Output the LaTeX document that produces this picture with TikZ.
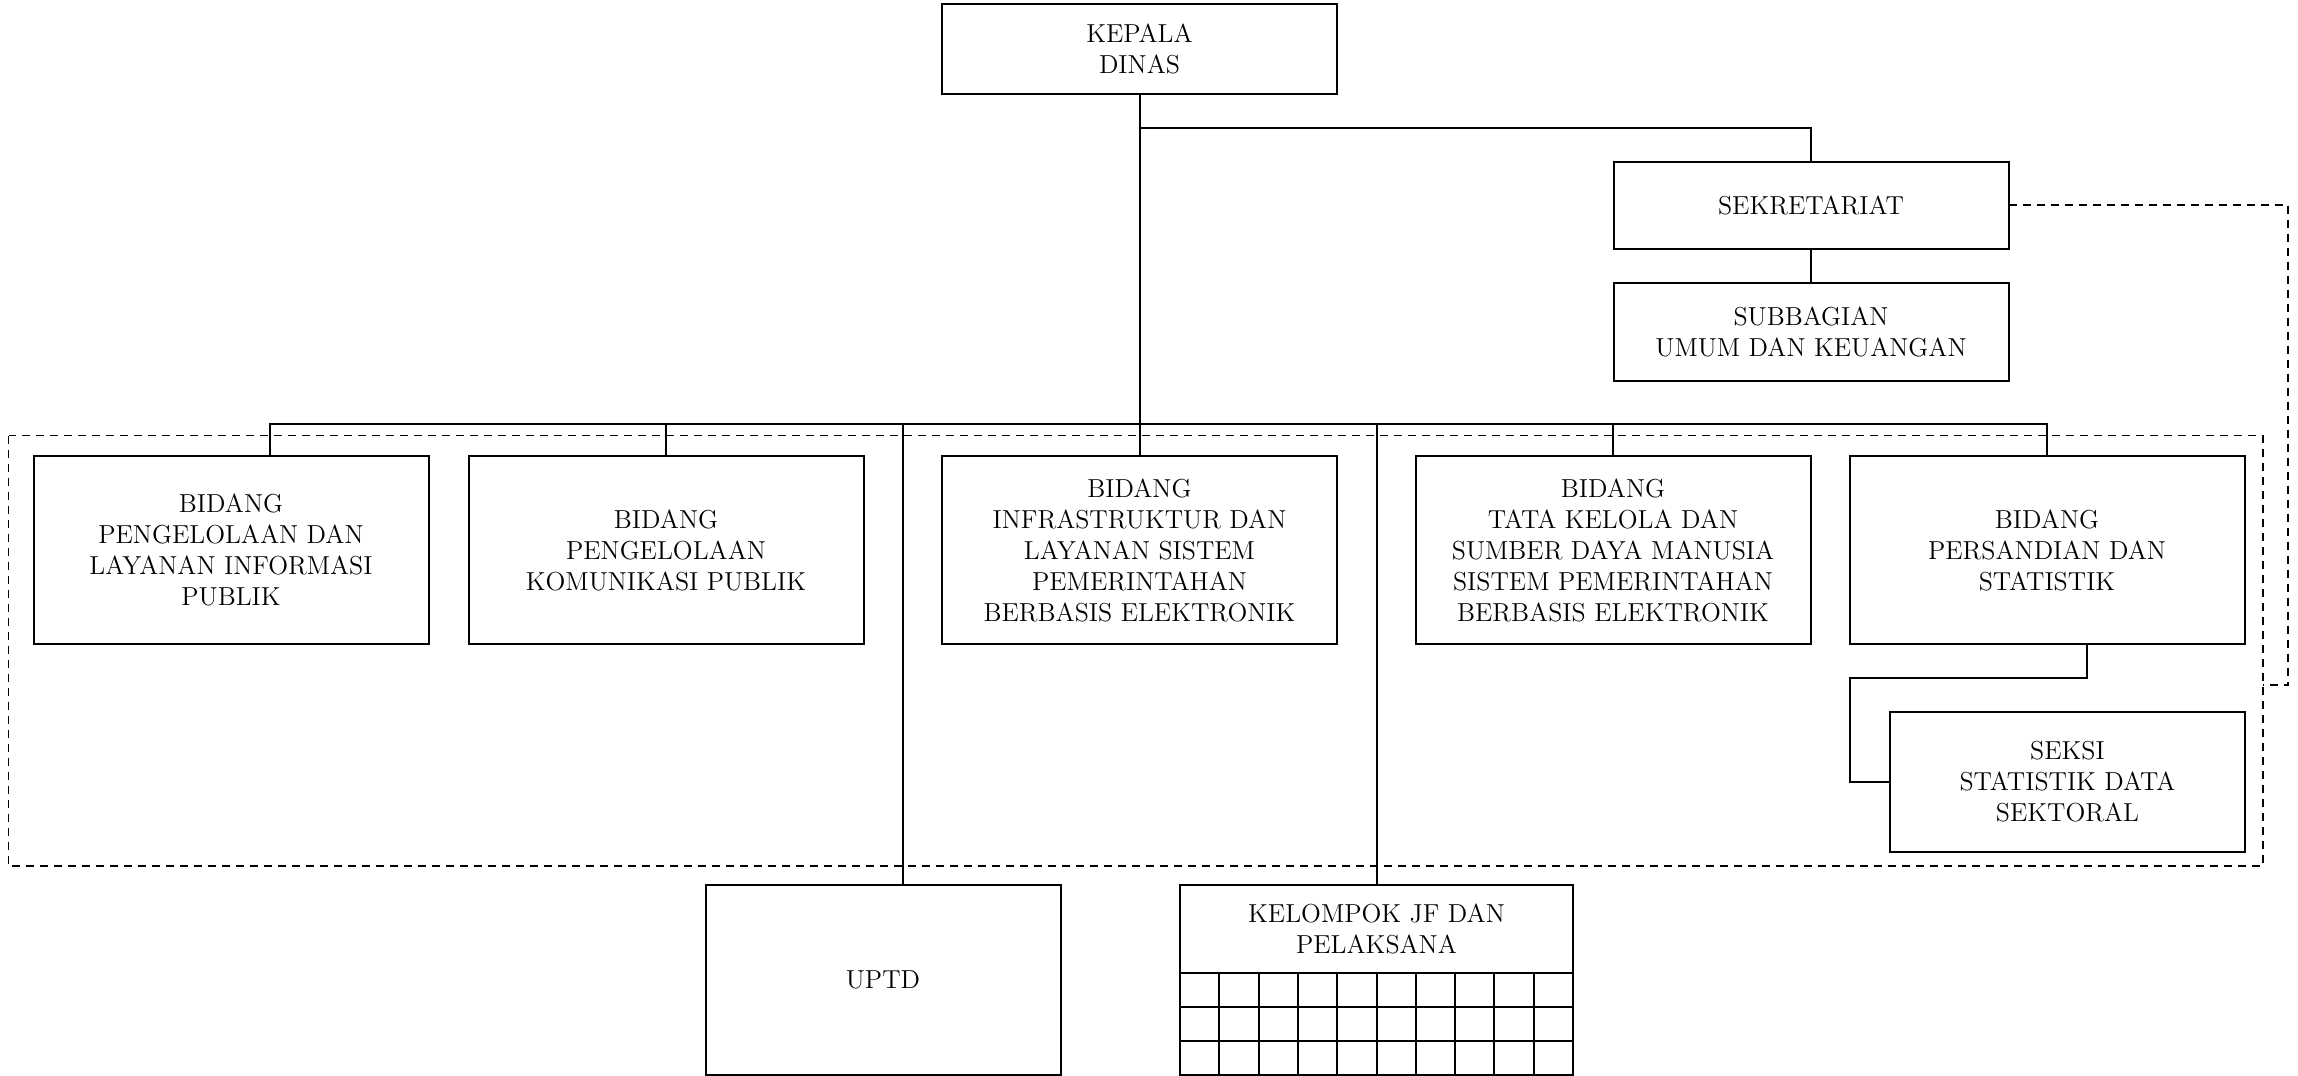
\documentclass[tikz,border=0pt]{standalone}
\usetikzlibrary{calc}

\begin{document}
\begin{tikzpicture}[x=0.5pt,y=-0.5pt,line width=1pt,
		unit/.style={draw, inner sep=0pt, outer sep=0pt, align=center,
			font=\fontsize{13}{15.5}\selectfont},
		widebox/.style={unit, minimum width=197.5pt},
		narrowbox/.style={unit, minimum width=177.5pt},
		dashline/.style={line width=0.85pt, dash pattern=on 4pt off 3pt}]
	\useasboundingbox (0,0) rectangle (2298,1076);

	%Kepala dan sekretariat
	\node[widebox, minimum height=45pt] (kepala) at (1139.5,49) {KEPALA\\DINAS};
	\node[widebox, minimum height=43.5pt] (sekretariat) at (1811,205) {SEKRETARIAT};
	\node[widebox, minimum height=49pt] (subbagian) at (1811,332) {SUBBAGIAN\\UMUM DAN KEUANGAN};

	%Bidang
	\node[widebox, minimum height=94pt] (bidang1) at (231,550) {BIDANG\\PENGELOLAAN DAN\\LAYANAN INFORMASI\\PUBLIK};
	\node[widebox, minimum height=94pt] (bidang2) at (666,550) {BIDANG\\PENGELOLAAN\\KOMUNIKASI PUBLIK};
	\node[widebox, minimum height=94pt] (bidang3) at (1139.5,550) {BIDANG\\INFRASTRUKTUR DAN\\LAYANAN SISTEM\\PEMERINTAHAN\\BERBASIS ELEKTRONIK};
	\node[widebox, minimum height=94pt] (bidang4) at (1613,550) {BIDANG\\TATA KELOLA DAN\\SUMBER DAYA MANUSIA\\SISTEM PEMERINTAHAN\\BERBASIS ELEKTRONIK};
	\node[widebox, minimum height=94pt] (bidang5) at (2047,550) {BIDANG\\PERSANDIAN DAN\\STATISTIK};
	\node[narrowbox, minimum height=70pt] (seksi) at (2067.5,782) {SEKSI\\STATISTIK DATA\\SEKTORAL};

	%UPTD dan kelompok JF
	\node[narrowbox, minimum height=95pt] (uptd) at (883,980) {UPTD};
	\node[unit, minimum width=196.5pt, minimum height=44pt] (kelompok) at (1376.5,929) {KELOMPOK JF DAN\\PELAKSANA};
	\draw (kelompok.south west) rectangle (1573,1075);
	\foreach \c in {1,...,9}
		\draw (1180+\c*39.3,973) -- (1180+\c*39.3,1075);
	\foreach \r in {1,2}
		\draw (1180,973+\r*34) -- (1573,973+\r*34);

	%Garis komando
	\coordinate (cabang) at (1139.5,127.5);
	\coordinate (bus) at (1139.5,423.5);
	\coordinate (belok) at (1850,678);
	\draw (kepala) -- (bidang3);
	\draw (cabang) -| (sekretariat.north);
	\draw (sekretariat) -- (subbagian);
	\draw (bus) -| ($(bidang1.north)+(39,0)$);
	\draw (bus) -| (bidang2.north);
	\draw (bus) -| (bidang4.north);
	\draw (bus) -| (bidang5.north);
	\draw (bus) -| ($(uptd.north)+(20,0)$);
	\draw (bus) -| (kelompok.north);
	\draw ($(bidang5.south)+(40,0)$) |- (belok) |- (seksi.west);

	%Garis koordinasi
	\coordinate (koordinasi) at (2262.7,685);
	\draw[dashline] (8.5,435.5) rectangle (2262.7,866);
	\draw[dashline] (sekretariat.east) -- (2288,205) -- (2288,685) -- (koordinasi);
\end{tikzpicture}
\end{document}
